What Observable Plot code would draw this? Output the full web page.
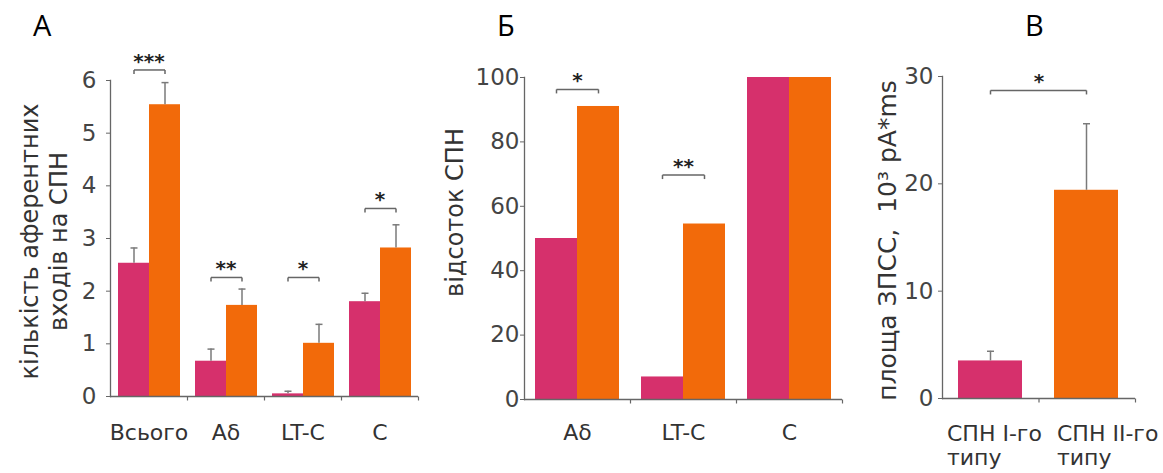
<!DOCTYPE html>
<html>
<head>
<meta charset="utf-8">
<script src="https://cdn.jsdelivr.net/npm/d3@7"></script>
<script src="https://cdn.jsdelivr.net/npm/@observablehq/plot@0.6"></script>
<style>
  body { margin: 0; background: #fff; }
  #wrap { position: relative; width: 1163px; height: 473px; overflow: hidden; background: #fff; }
  .panel { position: absolute; top: 0; }
  .ttl { position: absolute; font-family: "Open Sans", sans-serif; font-size: 29px; line-height: 29px; color: #000; }
</style>
</head>
<body>
<div id="wrap">
  <div id="pA" class="panel" style="left:0px"></div>
  <div id="pB" class="panel" style="left:420px"></div>
  <div id="pC" class="panel" style="left:845px"></div>
  <div class="ttl" style="left:33px;top:10px">А</div>
  <div class="ttl" style="left:497px;top:10px">Б</div>
  <div class="ttl" style="left:1025px;top:10px">В</div>
</div>
<script>
// ---------- data ----------
const colorI = "#d6306c";
const colorII = "#f26a0a";
const groups = ["I", "II"];

// Panel А
const catsA = ["Всього", "Aδ", "LT-C", "C"];
const meanI_A = [2.53, 0.67, 0.05, 1.80];
const errI_A = [0.29, 0.23, 0.05, 0.16];
const meanII_A = [5.54, 1.73, 1.01, 2.82];
const errII_A = [0.42, 0.31, 0.36, 0.44];
const sigA = ["***", "**", "*", "*"];
const sigLevelA = [6.2, 2.26, 2.26, 3.57];
const ticksA = [0, 1, 2, 3, 4, 5, 6];
const ylabelA = "кількість аферентних\nвходів на СПН";

// Panel Б
const catsB = ["Aδ", "LT-C", "C"];
const pctI_B = [50, 7, 100];
const pctII_B = [91, 54.5, 100];
const sigB = ["*", "**", ""];
const sigLevelB = [96.3, 69.7, null];
const ticksB = [0, 20, 40, 60, 80, 100];
const ylabelB = "відсоток СПН";

// Panel В
const catsC = ["СПН I-го типу", "СПН II-го типу"];
const labelsC = ["СПН I-го\nтипу", "СПН II-го\nтипу"];
const areaC = [3.5, 19.4];
const errC = [0.9, 6.2];
const sigC = ["*"];
const sigLevelC = [28.7];
const ticksC = [0, 10, 20, 30];
const ylabelC = "площа ЗПСС,\u00a0 10³ pA*ms";

// ---------- helpers ----------
const FONT = "'DejaVu Sans', 'Liberation Sans', sans-serif";
const AXIS = "#666";
const ERR = "#7a7a7a";
const TICK_FS = 23, CAT_FS = 22, YLAB_FS = 24, STAR_FS = 20;
const capSymbol = { draw(ctx, size) { const w = Math.sqrt(size / Math.PI); ctx.moveTo(-w, 0); ctx.lineTo(w, 0); } };
const downSymbol = { draw(ctx, size) { const h = Math.sqrt(size / Math.PI); ctx.moveTo(0, 0); ctx.lineTo(0, h); } };

function groupedRows(cats, a, ea, b, eb) {
  return cats.flatMap((c, i) => [
    { cat: c, grp: "I", v: a[i], e: ea ? ea[i] : 0 },
    { cat: c, grp: "II", v: b[i], e: eb ? eb[i] : 0 }
  ]);
}
function sigRowsOf(cats, sig, lev) {
  return cats.map((c, i) => ({ cat: c, s: sig[i], level: lev[i] })).filter(d => d.s);
}

function grouped(o) {
  const errRows = o.rows.filter(d => d.e > 0);
  const ends = o.sigRows.flatMap(d => groups.map(g => ({ ...d, grp: g })));
  return Plot.plot({
    width: o.width, height: 473,
    marginLeft: o.mL, marginRight: o.mR, marginTop: o.mT, marginBottom: o.mB,
    style: { background: "transparent", fontFamily: FONT, fontSize: "21px", color: "#444", overflow: "visible" },
    fx: { domain: o.cats, padding: 0 },
    x: { domain: groups, paddingInner: 0, paddingOuter: o.outer, axis: null },
    y: { domain: o.yDomain },
    color: { domain: groups, range: [colorI, colorII] },
    marks: [
      Plot.barY(o.rows, { fx: "cat", x: "grp", y: "v", fill: "grp" }),
      Plot.ruleX(errRows, { fx: "cat", x: "grp", y1: "v", y2: d => d.v + d.e, stroke: ERR, strokeWidth: 1.5 }),
      Plot.dot(errRows, { fx: "cat", x: "grp", y: d => d.v + d.e, symbol: capSymbol, r: 3.5, stroke: ERR, fill: "none", strokeWidth: 1.5 }),
      Plot.ruleY([0], { stroke: AXIS, strokeWidth: 1.3 }),
      Plot.frame({ anchor: "left", facetAnchor: "left", stroke: AXIS, strokeWidth: 1.3 }),
      Plot.dot([0], { frameAnchor: "bottom-right", symbol: downSymbol, r: 4, stroke: AXIS, fill: "none", strokeWidth: 1.2 }),
      Plot.axisY({ ticks: o.ticks, tickFormat: d => String(d), tickSize: 4, tickPadding: o.tickPadding, label: null, stroke: AXIS, fill: "#444", fontSize: TICK_FS }),
      Plot.axisFx({ anchor: "bottom", tickSize: 0, tickPadding: o.fxPad, label: null, fill: "#333", fontSize: CAT_FS }),
      Plot.link(o.sigRows, { fx: "cat", x1: () => "I", x2: () => "II", y1: "level", y2: "level", stroke: AXIS, strokeWidth: 1.5 }),
      Plot.dot(ends, { fx: "cat", x: "grp", y: "level", symbol: downSymbol, r: 4, stroke: AXIS, fill: "none", strokeWidth: 1.5 }),
      Plot.text(o.sigRows, { fx: "cat", y: "level", text: "s", lineAnchor: "bottom", dy: -2, fontSize: STAR_FS, fontWeight: "bold", fill: "#222" }),
      Plot.text([{ cat: o.cats[0], t: o.ylabel }], { fx: "cat", frameAnchor: "left", textAnchor: "middle", text: "t", rotate: -90, dx: o.yDx, dy: o.yDy, fontSize: YLAB_FS, lineHeight: 1.2, fill: "#333" })
    ]
  });
}

// ---------- panel А ----------
document.getElementById("pA").append(grouped({
  cats: catsA,
  rows: groupedRows(catsA, meanI_A, errI_A, meanII_A, errII_A),
  sigRows: sigRowsOf(catsA, sigA, sigLevelA),
  yDomain: [0, 6], ticks: ticksA,
  width: 420, mL: 108, mR: 1, mT: 80, mB: 77,
  outer: 0.23, tickPadding: 10, fxPad: 28,
  ylabel: ylabelA, yDx: -67, yDy: 3
}));

// ---------- panel Б ----------
document.getElementById("pB").append(grouped({
  cats: catsB,
  rows: groupedRows(catsB, pctI_B, null, pctII_B, null),
  sigRows: sigRowsOf(catsB, sigB, sigLevelB),
  yDomain: [0, 100], ticks: ticksB,
  width: 425, mL: 104, mR: 3, mT: 77, mB: 74,
  outer: 0.26, tickPadding: 1, fxPad: 25,
  ylabel: ylabelB, yDx: -71, yDy: -26
}));

// ---------- panel В ----------
const rowsC = catsC.map((c, i) => ({ cat: c, label: labelsC[i], v: areaC[i], e: errC[i] }));
const sigRowsC = sigC.map((s, i) => ({ s, level: sigLevelC[i] }));
const labelOffsets = [-43.5, -29.5];
document.getElementById("pC").append(Plot.plot({
  width: 318, height: 473,
  marginLeft: 97, marginRight: 28, marginTop: 76, marginBottom: 75,
  style: { background: "transparent", fontFamily: FONT, fontSize: "21px", color: "#444", overflow: "visible" },
  x: { domain: catsC, paddingInner: 0.33, paddingOuter: 0.17, axis: null },
  y: { domain: [0, 30] },
  color: { domain: catsC, range: [colorI, colorII] },
  marks: [
    Plot.barY(rowsC, { x: "cat", y: "v", fill: "cat" }),
    Plot.ruleX(rowsC, { x: "cat", y1: "v", y2: d => d.v + d.e, stroke: ERR, strokeWidth: 1.5 }),
    Plot.dot(rowsC, { x: "cat", y: d => d.v + d.e, symbol: capSymbol, r: 3.5, stroke: ERR, fill: "none", strokeWidth: 1.5 }),
    Plot.ruleY([0], { stroke: AXIS, strokeWidth: 1.3 }),
    Plot.frame({ anchor: "left", stroke: AXIS, strokeWidth: 1.3 }),
    Plot.dot([0], { frameAnchor: "bottom", symbol: downSymbol, r: 4, stroke: AXIS, fill: "none", strokeWidth: 1.2 }),
    Plot.dot([0], { frameAnchor: "bottom-right", symbol: downSymbol, r: 4, stroke: AXIS, fill: "none", strokeWidth: 1.2 }),
    Plot.axisY({ ticks: ticksC, tickFormat: d => String(d), tickSize: 4, tickPadding: 5, label: null, stroke: AXIS, fill: "#444", fontSize: TICK_FS }),
    Plot.link(sigRowsC, { x1: () => catsC[0], x2: () => catsC[1], y1: "level", y2: "level", stroke: AXIS, strokeWidth: 1.5 }),
    Plot.dot(catsC, { x: d => d, y: () => sigLevelC[0], symbol: downSymbol, r: 4, stroke: AXIS, fill: "none", strokeWidth: 1.5 }),
    Plot.text(sigRowsC, { y: "level", text: "s", lineAnchor: "bottom", dy: -2, fontSize: STAR_FS, fontWeight: "bold", fill: "#222" }),
    ...rowsC.map((r, i) => Plot.text([r], { x: "cat", frameAnchor: "bottom", text: "label", textAnchor: "start", lineAnchor: "top", dx: labelOffsets[i], dy: 26, lineHeight: 1.08, fontSize: CAT_FS, fill: "#333" })),
    Plot.text([ylabelC], { frameAnchor: "left", textAnchor: "middle", text: d => d, rotate: -90, dx: -55, dy: 3, fontSize: 25, fill: "#333" })
  ]
}));
</script>
</body>
</html>
